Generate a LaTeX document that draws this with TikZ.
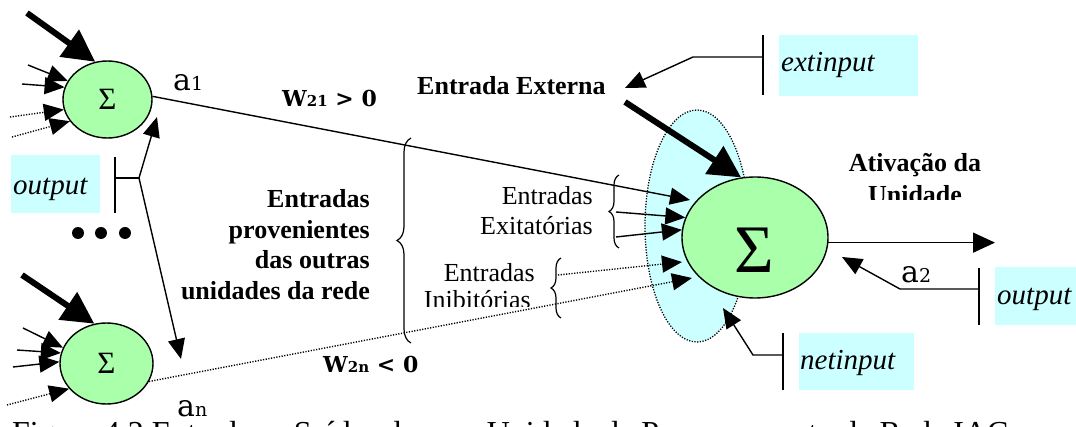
\documentclass[tikz,border=0pt]{standalone}
\usepackage{fontspec}
\setmainfont{Liberation Serif}
\newfontfamily\djs{DejaVu Serif}
\usetikzlibrary{arrows.meta,shapes.geometric,decorations.pathreplacing}
\definecolor{ugreen}{HTML}{AAFFAA}
\definecolor{lcyan}{HTML}{CCFFFF}
\begin{document}
\begin{tikzpicture}[x=1pt,y=-1pt,
  ln/.style={line width=1.4pt},
  arr/.style={line width=1.4pt,-{Triangle[length=20pt,width=17pt]}},
  dotarr/.style={arr,dash pattern=on 1.2pt off 1.5pt},
  dotln/.style={line width=1.3pt,dash pattern=on 1.2pt off 1.5pt},
  bigarr/.style={line width=6pt,-{Triangle[length=32pt,width=32pt]}},
  unit/.style={ellipse,draw,line width=1.4pt,fill=ugreen,inner sep=0pt},
  lbox/.style={fill=lcyan,inner sep=0pt,anchor=north west},
  itl/.style={font=\fontsize{29}{29}\selectfont\itshape,inner sep=0pt},
  bt/.style={font=\fontsize{26}{31}\selectfont\bfseries,inner sep=0pt},
  rt/.style={font=\fontsize{26}{31}\selectfont,inner sep=0pt},
  al/.style={font=\djs\fontsize{30}{30}\selectfont,inner sep=0pt},
  wl/.style={font=\djs\bfseries\fontsize{22}{22}\selectfont,inner sep=0pt},
  brc/.style={line width=1.2pt,decorate,decoration={brace,amplitude=#1}},
]
\useasboundingbox (0,0) rectangle (1076,427);
\clip (0,0) rectangle (1076,427);

% halo around the receiving unit
\node[ellipse,draw,dotln,fill=lcyan,minimum width=104pt,minimum height=232pt,inner sep=0pt] (halo) at (697,226) {};

% units
\node[unit,minimum width=89pt,minimum height=77pt,font=\fontsize{31}{31}\selectfont] (u1) at (107.5,99.5) {Σ};
\node[unit,minimum width=93pt,minimum height=81pt,font=\fontsize{31}{31}\selectfont] (un) at (106.5,363.5) {Σ};
\node[unit,minimum width=146pt,minimum height=121pt] (u2) at (755,237.5) {};
\node[font=\fontsize{68}{68}\selectfont,inner sep=0pt] (u2s) at (754,250) {Σ};

% dots
\foreach \x [count=\i] in {78,101,125}
  \node[circle,fill=black,minimum size=12pt,inner sep=0pt] (dot\i) at (\x,233) {};

% inputs of unit 1
\coordinate (i1a) at (27,13);
\coordinate (i1b) at (28,65);
\coordinate (i1c) at (22,84);
\coordinate (i1d) at (10,117);
\coordinate (i1e) at (12,137);
\draw[bigarr] (i1a) -- (u1.108);
\draw[arr] (i1b) -- (u1.155);
\draw[arr] (i1c) -- (u1.164);
\draw[dotarr] (i1d) -- (u1.193);
\draw[dotarr] (i1e) -- (u1.210);

% inputs of unit n
\coordinate (ina) at (22,275);
\coordinate (inb) at (23,328);
\coordinate (inc) at (17,350);
\coordinate (ind) at (13,367);
\coordinate (ine) at (7,405);
\draw[bigarr] (ina) -- (un.107);
\draw[arr] (inb) -- (un.160);
\draw[arr] (inc) -- (un.167);
\draw[arr] (ind) -- (un.178);
\draw[dotarr] (ine) -- (un.214);

% long connections
\coordinate (t21) at (690,200);
\coordinate (t2n) at (692,278);
\draw[arr] (u1.4) -- (t21);
\draw[dotarr] (un.337) -- (t2n);

% braces
\draw[brc=14pt] (411,343) -- (411,138);
\draw[brc=10pt] (619,248) -- (619,175);
\draw[brc=10pt] (561,318) -- (561,258);

% excitatory / inhibitory inputs
\coordinate (e1) at (616,212);
\coordinate (e2) at (616,237);
\draw[arr] (e1) -- (u2.164);
\draw[arr] (e2) -- (u2.174);
\coordinate (h1) at (558,275);
\coordinate (h1t) at (682,262);
\draw[dotarr] (h1) -- (h1t);

% external input
\node[bt,anchor=base west] (ext) at (417,95) {Entrada Externa};
\coordinate (xs) at (625,102);
\draw[bigarr] (xs) -- (u2.103);

\node[lbox,minimum width=139pt,minimum height=61pt] (extb) at (779,35) {};
\node[itl,anchor=base west] (extt) at (781,72) {extinput};
\coordinate (xb1) at (763,35);
\coordinate (xb2) at (763,95);
\coordinate (xj) at (763,57);
\coordinate (xk) at (693,57);
\coordinate (xt) at (625,88);
\draw[ln] (xb1) -- (xb2);
\draw[arr] (xj) -- (xk) -- (xt);

% output of unit 2
\coordinate (oe) at (995,243);
\draw[line width=1.4pt,-{Triangle[length=22pt,width=20pt]}] (u2.-4) -- (u2.-4 -| oe);

\node[bt,anchor=base] (at1) at (915,172) {Ativação da};
\begin{scope}
  \clip (840,150) rectangle (1000,200);
  \node[bt,anchor=base] (at2) at (915,204) {Unidade};
\end{scope}

% a2 / output
\node[lbox,minimum width=81pt,minimum height=58pt] (outb) at (995,267) {};
\node[itl,anchor=base west] (outt) at (997,305) {output};
\coordinate (ob1) at (979,268);
\coordinate (ob2) at (979,325);
\coordinate (oj) at (979,289);
\coordinate (ok) at (900,289);
\coordinate (ot) at (842,257);
\draw[ln] (ob1) -- (ob2);
\draw[arr] (oj) -- (ok) -- (ot);
\node[al,anchor=base west] (a2) at (901,283) {a{\fontsize{19}{19}\selectfont 2}};

% netinput
\node[lbox,minimum width=115pt,minimum height=57pt] (netb) at (799,333) {};
\node[itl,anchor=base west] (nett) at (800,370) {netinput};
\coordinate (nb1) at (783,333);
\coordinate (nb2) at (783,390);
\coordinate (nj) at (783,355);
\coordinate (nk) at (753,355);
\coordinate (nt) at (723,308);
\draw[ln] (nb1) -- (nb2);
\draw[arr] (nj) -- (nk) -- (nt);

% left output
\node[lbox,minimum width=89pt,minimum height=58pt] (lob) at (11,155) {};
\node[itl,anchor=base west] (lot) at (13,195) {output};
\coordinate (lb1) at (115,157);
\coordinate (lb2) at (115,213);
\coordinate (lj) at (115,178);
\coordinate (lk) at (139,178);
\coordinate (lt1) at (157,117);
\coordinate (lt2) at (181,359);
\draw[ln] (lb1) -- (lb2);
\draw[ln] (lj) -- (lk);
\draw[arr] (lk) -- (lt1);
\draw[arr] (lk) -- (lt2);

% activation labels
\node[al,anchor=base west] (a1) at (173,91) {a{\fontsize{19}{19}\selectfont 1}};
\node[al,anchor=base west] (an) at (177,417) {a{\fontsize{19}{19}\selectfont n}};

% weights
\node[wl,anchor=base west] (w21) at (282,107) {W{\fontsize{15}{15}\selectfont 21} > 0};
\node[wl,anchor=base west] (w2n) at (323,373) {W{\fontsize{15}{15}\selectfont 2n} < 0};

% texts
\node[bt,anchor=base east] (ep1) at (370,208) {Entradas};
\node[bt,anchor=base east] (ep2) at (370,238.5) {provenientes};
\node[bt,anchor=base east] (ep3) at (370,269) {das outras};
\node[bt,anchor=base east] (ep4) at (370,300) {unidades da rede};

\node[rt,anchor=base east] (ex1) at (593,205) {Entradas};
\node[rt,anchor=base east] (ex2) at (593,235) {Exitatórias};

\node[rt,anchor=base east] (in1) at (535,282) {Entradas};
\begin{scope}
  \clip (400,286) rectangle (560,307);
  \node[rt,anchor=base east] (in2) at (531,309) {Inibitórias};
\end{scope}

% caption (cut by the lower edge)
\node[font=\fontsize{32}{32}\selectfont,anchor=base west,inner sep=0pt] (cap) at (12,443) {Figura 4.2 Entradas e Saídas de uma Unidade de Processamento da Rede IAC};
\end{tikzpicture}
\end{document}
